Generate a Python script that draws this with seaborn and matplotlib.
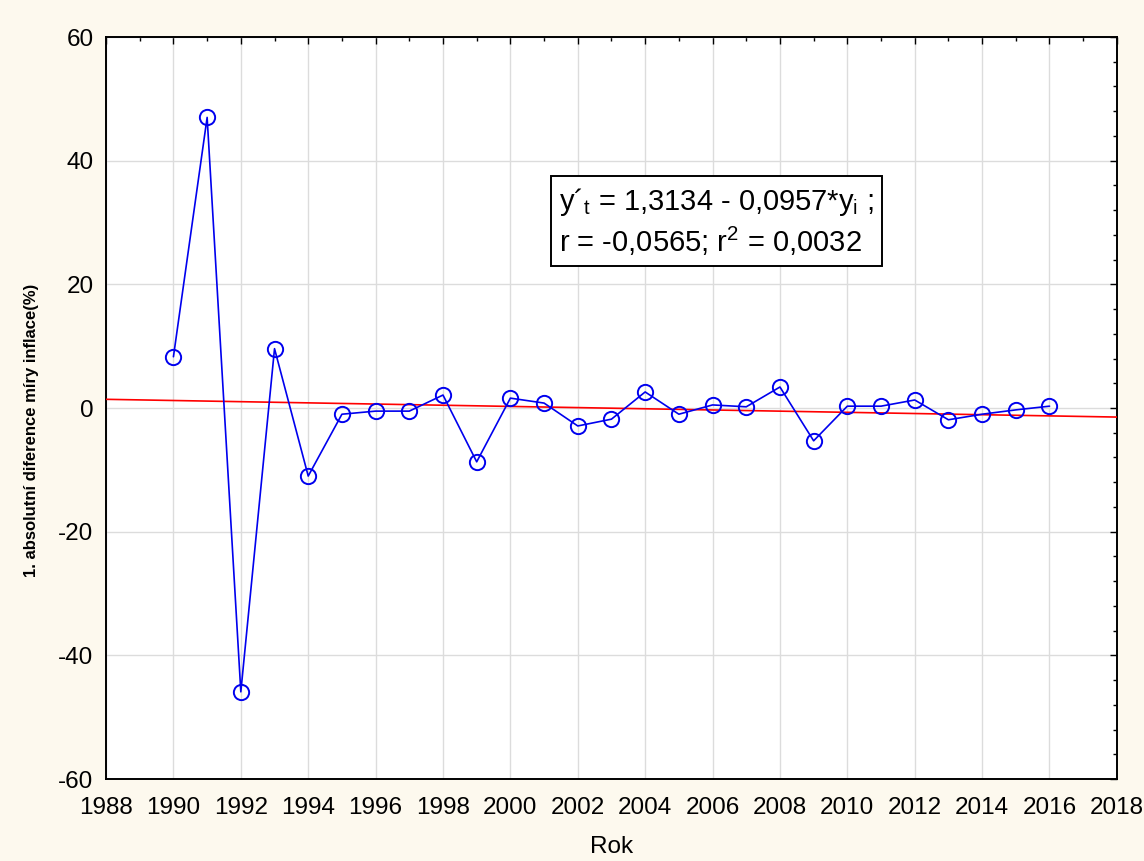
import numpy as np
import pandas as pd
import matplotlib
matplotlib.use("Agg")
import matplotlib.pyplot as plt
import seaborn as sns
from matplotlib.ticker import MultipleLocator

# first absolute difference of inflation rate (%)
years = list(range(1990, 2017))
diff_values = [8.3, 47.0, -45.9, 9.6, -11.0, -1.0, -0.5, -0.5, 2.1, -8.7,
               1.6, 0.8, -2.9, -1.8, 2.6, -1.0, 0.5, 0.2, 3.4, -5.3,
               0.3, 0.3, 1.3, -1.9, -1.0, -0.3, 0.3]

# linear trend y't = a + b*t (t counted from 1989)
trend_a = 1.3134
trend_b = -0.0957
trend_years = [1988, 2018]

df = pd.DataFrame({"Rok": years, "value": diff_values})
trend = pd.DataFrame({"Rok": trend_years,
                      "value": [trend_a + trend_b * (t - 1989) for t in trend_years]})

sns.set_style("white")
plt.rcParams['font.family'] = ['Liberation Sans', 'DejaVu Sans']
plt.rcParams['axes.unicode_minus'] = False
plt.rcParams['text.color'] = 'black'
plt.rcParams['axes.labelcolor'] = 'black'
plt.rcParams['xtick.color'] = 'black'
plt.rcParams['ytick.color'] = 'black'

fig = plt.figure(figsize=(11.44, 8.61), dpi=100, facecolor="#fdf9ee")
ax = fig.add_axes([0.0927, 0.0952, 0.8836, 0.8618])
ax.set_facecolor("white")

sns.lineplot(data=trend, x="Rok", y="value", color="red", linewidth=1.2, ax=ax, zorder=3)
sns.lineplot(data=df, x="Rok", y="value", color="#0000ee", linewidth=1.2,
             marker="o", markersize=11, markerfacecolor="none",
             markeredgecolor="#0000ee", markeredgewidth=1.4, ax=ax, zorder=4)

ax.set_xlim(1988, 2018)
ax.set_ylim(-60, 60)
ax.xaxis.set_major_locator(MultipleLocator(2))
ax.xaxis.set_minor_locator(MultipleLocator(1))
ax.yaxis.set_major_locator(MultipleLocator(20))
ax.yaxis.set_minor_locator(MultipleLocator(4))
ax.grid(True, which="major", color="#dcdcdc", linewidth=1.0)
ax.set_axisbelow(True)

ax.tick_params(which="both", direction="in", top=True, right=True)
ax.tick_params(which="major", length=5, width=1, labelsize=17.5)
ax.tick_params(axis="x", which="major", pad=13)
ax.tick_params(axis="y", which="major", pad=9)
ax.tick_params(which="minor", length=3, width=1)
for s in ax.spines.values():
    s.set_color("black")
    s.set_linewidth(1.4)

ax.set_xlabel("Rok", fontsize=17.5, labelpad=12)
ax.set_ylabel("1. absolutní diference míry inflace(%)", fontsize=12,
              fontweight="bold")
ax.yaxis.set_label_coords(-0.066, 0.47)

eq = ("y´$_\\mathregular{t}$ = 1,3134 - 0,0957*y$_\\mathregular{i}$ ;\n"
      "r = -0,0565; r$^\\mathregular{2}$ = 0,0032")
ax.text(0.604, 0.751, eq, transform=ax.transAxes, fontsize=21, ha="center", va="center",
        multialignment="left", linespacing=1.25, zorder=5,
        bbox=dict(boxstyle="square,pad=0.28", facecolor="white", edgecolor="black", linewidth=1.4))

fig.savefig("out.png", dpi=100, facecolor=fig.get_facecolor())
